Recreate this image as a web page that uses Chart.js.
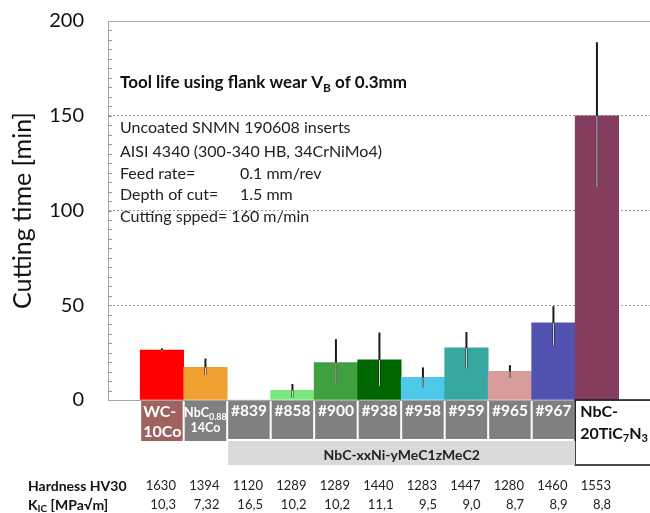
<!DOCTYPE html>
<html>
<head>
<meta charset="utf-8">
<script src="https://cdn.jsdelivr.net/npm/chart.js@4/dist/chart.umd.min.js"></script>
<style>
  html, body { margin: 0; padding: 0; background: #fff; }
  #wrap { width: 650px; height: 513px; }
</style>
</head>
<body>
<div id="wrap"><canvas id="chart" width="650" height="513"></canvas></div>
<script>
// samples, bottom boxes (use _{..} for subscripts)
const categories = ["WC-10Co", "NbC0.88 14Co", "#839", "#858", "#900", "#938", "#958", "#959", "#965", "#967", "NbC-20TiC7N3"];
const boxLabels = [["WC-", "10Co"], ["NbC_{0.88}", "14Co"], ["#839"], ["#858"], ["#900"], ["#938"], ["#958"], ["#959"], ["#965"], ["#967"], ["NbC-", "20TiC_{7}N_{3}"]];

// cutting time [min] and the error bar ends
const cuttingTime = [26.3, 17.2, 0, 5.1, 19.8, 21.2, 11.9, 27.5, 15.1, 40.7, 150];
const errLow  = [25.5, 13.2, null, 1.4, 8.4, 7.4, 6.7, 16.7, 11.7, 28.9, 112.3];
const errHigh = [27.2, 21.9, null, 8.4, 32.1, 35.6, 17.2, 35.9, 18.4, 49.5, 188.8];

const barColors = ["#ff0000", "#f0a030", "#8be88b", "#7ae87a", "#40a040", "#006600", "#4dc8e8", "#36a8a0", "#d89c9c", "#5252b0", "#843c5f"];
const boxColors = ["#a0625e", "#808080", "#808080", "#808080", "#808080", "#808080", "#808080", "#808080", "#808080", "#808080", "#ffffff"];

const hardness = ["1630", "1394", "1120", "1289", "1289", "1440", "1283", "1447", "1280", "1460", "1553"];
const kic = ["10,3", "7,32", "16,5", "10,2", "10,2", "11,1", "9,5", "9,0", "8,7", "8,9", "8,8"];

const yTicks = [0, 50, 100, 150, 200];
const groupLabel = "NbC-xxNi-yMeC1zMeC2";
const noteTitle = "Tool life using flank wear V_{B} of 0.3mm";
const noteLines = [["Uncoated SNMN 190608 inserts"], ["AISI 4340 (300-340 HB, 34CrNiMo4)"], ["Feed rate=", "0.1 mm/rev"], ["Depth of cut=", "1.5 mm"], ["Cutting spped= 160 m/min"]];

const FONT = "Lato, 'Open Sans', sans-serif";

function richText(ctx, str, x, y, size, weight, color, align) {
  const parts = str.split(/(_\{[^}]*\})/).filter(Boolean).map(p => {
    const m = p.match(/^_\{(.*)\}$/);
    return m ? { t: m[1], sub: true } : { t: p, sub: false };
  });
  const subSize = Math.round(size * 0.68);
  let w = 0;
  parts.forEach(p => {
    ctx.font = weight + " " + (p.sub ? subSize : size) + "px " + FONT;
    p.w = ctx.measureText(p.t).width;
    w += p.w;
  });
  let cx = align === "center" ? x - w / 2 : align === "right" ? x - w : x;
  ctx.save();
  ctx.fillStyle = color;
  ctx.textAlign = "left";
  ctx.textBaseline = "middle";
  parts.forEach(p => {
    ctx.font = weight + " " + (p.sub ? subSize : size) + "px " + FONT;
    ctx.fillText(p.t, cx, p.sub ? y + size * 0.3 : y);
    cx += p.w;
  });
  ctx.restore();
}

const extras = {
  id: "extras",
  afterDatasetsDraw(chart) {
    const { ctx } = chart;
    const y = chart.scales.y;
    const meta = chart.getDatasetMeta(0);
    meta.data.forEach((bar, i) => {
      if (errLow[i] == null) return;
      const yl = y.getPixelForValue(errLow[i]);
      const yh = y.getPixelForValue(errHigh[i]);
      ctx.save();
      ctx.strokeStyle = "#1a1a1a";
      ctx.lineWidth = 2;
      ctx.beginPath();
      ctx.moveTo(bar.x, yl);
      ctx.lineTo(bar.x, yh);
      ctx.stroke();
      const top = Math.max(bar.y, yh);
      if (yl > top) {
        ctx.strokeStyle = "rgba(255,255,255,0.85)";
        ctx.lineWidth = 1;
        ctx.beginPath();
        ctx.moveTo(bar.x, top);
        ctx.lineTo(bar.x, yl);
        ctx.stroke();
      }
      ctx.restore();
    });
  },
  afterDraw(chart) {
    const { ctx, chartArea: area } = chart;
    const y = chart.scales.y;
    const meta = chart.getDatasetMeta(0);

    // minor ticks inside the y axis
    ctx.save();
    ctx.strokeStyle = "#9a9a9a";
    ctx.lineWidth = 1;
    for (let v = 5; v < 200; v += 5) {
      const py = Math.round(y.getPixelForValue(v)) + 0.5;
      ctx.beginPath();
      ctx.moveTo(area.left, py);
      ctx.lineTo(area.left + 4, py);
      ctx.stroke();
    }
    ctx.restore();

    // notes in the plot
    richText(ctx, noteTitle, area.left + 12, 83, 17, "bold", "#111", "left");
    const rowsY = [128, 152, 174, 195, 217];
    noteLines.forEach((line, i) => {
      richText(ctx, line[0], area.left + 12, rowsY[i], 16, "normal", "#222", "left");
      if (line[1]) richText(ctx, line[1], area.left + 132, rowsY[i], 16, "normal", "#222", "left");
    });

    // sample boxes under the axis
    const half = meta.data[0].width / 2;
    const boxTop = area.bottom + 1;
    meta.data.forEach((bar, i) => {
      const last = i === meta.data.length - 1;
      const lines = boxLabels[i];
      if (!last) {
        const h = i < 2 ? 40 : 38;
        ctx.fillStyle = boxColors[i];
        ctx.fillRect(bar.x - half + 1, boxTop, half * 2 - 2, h);
        if (i === 0) {
          richText(ctx, lines[0], bar.x - half + 3, boxTop + 11, 16, "bold", "#fff", "left");
          richText(ctx, lines[1], bar.x - half + 3, boxTop + 31, 16, "bold", "#fff", "left");
        } else if (i === 1) {
          richText(ctx, lines[0], bar.x, boxTop + 12, 12.5, "bold", "#fff", "center");
          richText(ctx, lines[1], bar.x, boxTop + 27, 12.5, "bold", "#fff", "center");
        } else {
          richText(ctx, lines[0], bar.x, boxTop + 10, 15.5, "bold", "#fff", "center");
        }
      } else {
        const bx = bar.x - half;
        ctx.save();
        ctx.strokeStyle = "#111";
        ctx.lineWidth = 1.5;
        ctx.beginPath();
        ctx.moveTo(chart.width, area.bottom);
        ctx.lineTo(bx, area.bottom);
        ctx.lineTo(bx, area.bottom + 65);
        ctx.lineTo(chart.width, area.bottom + 65);
        ctx.stroke();
        ctx.restore();
        richText(ctx, lines[0], bx + 5, boxTop + 11, 16, "bold", "#111", "left");
        richText(ctx, lines[1], bx + 5, boxTop + 33, 16, "bold", "#111", "left");
      }
    });

    // group band
    const g0 = meta.data[2].x - half + 1;
    const g1 = meta.data[meta.data.length - 1].x - half;
    ctx.fillStyle = "#d9d9d9";
    ctx.fillRect(g0, area.bottom + 41, g1 - g0, 24);
    richText(ctx, groupLabel, (g0 + g1) / 2, area.bottom + 55, 14, "bold", "#222", "center");

    // property table
    richText(ctx, "Hardness HV30", 28, 486, 14, "bold", "#111", "left");
    richText(ctx, "K_{IC} [MPa\u221Am]", 28, 505, 14, "bold", "#111", "left");
    meta.data.forEach((bar, i) => {
      richText(ctx, hardness[i], bar.x + 14, 486, 13, "normal", "#222", "right");
      richText(ctx, kic[i], bar.x + 14, 505, 13, "normal", "#222", "right");
    });
  }
};

new Chart(document.getElementById("chart"), {
  type: "bar",
  data: {
    labels: categories,
    datasets: [{
      label: "Cutting time",
      data: cuttingTime.map((v, i) => ({ x: i, y: v })),
      backgroundColor: barColors,
      borderWidth: 0,
      barPercentage: 1,
      categoryPercentage: 1
    }]
  },
  options: {
    responsive: false,
    animation: false,
    plugins: { legend: { display: false }, tooltip: { enabled: false } },
    layout: { padding: 0 },
    scales: {
      x: {
        type: "linear",
        offset: false,
        min: -1.24,
        max: 11.22,
        afterBuildTicks: s => { s.ticks = categories.map((_, i) => ({ value: i })); },
        afterFit: s => { s.height = 113; },
        ticks: { display: false },
        grid: { display: false },
        border: { color: "#a6a6a6", width: 1 }
      },
      xTop: {
        type: "linear",
        position: "top",
        offset: false,
        min: -1.24,
        max: 11.22,
        afterFit: s => { s.height = 21; },
        ticks: { display: false },
        grid: { display: false },
        border: { color: "#a6a6a6", width: 1 }
      },
      y: {
        min: 0,
        max: 200,
        afterBuildTicks: s => { s.ticks = yTicks.map(v => ({ value: v })); },
        afterFit: s => { s.width = 108; },
        ticks: { padding: 3, color: "#111", font: { family: FONT, size: 20 } },
        grid: {
          drawTicks: true,
          tickLength: 21,
          tickColor: "transparent",
          color: c => (c.tick && c.tick.value > 0 && c.tick.value < 200) ? "#9a9a9a" : "transparent",
          lineWidth: 1
        },
        border: { color: "#a6a6a6", width: 1, dash: [2, 2] },
        title: { display: true, text: "Cutting time [min]", color: "#111", font: { family: FONT, size: 25 }, padding: { top: 8, bottom: 0 } }
      }
    }
  },
  plugins: [extras]
});
</script>
</body>
</html>
